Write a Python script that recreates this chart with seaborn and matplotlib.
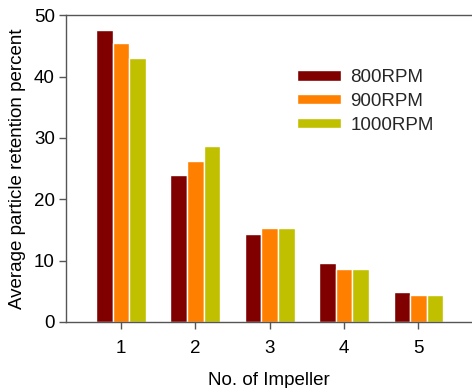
import pandas as pd
import matplotlib
matplotlib.use("Agg")
import matplotlib.pyplot as plt
import seaborn as sns

impellers = ["1", "2", "3", "4", "5"]
speeds = ["800RPM", "900RPM", "1000RPM"]
rpm_800 = [47.6, 23.9, 14.35, 9.6, 4.85]
rpm_900 = [45.5, 26.3, 15.3, 8.65, 4.35]
rpm_1000 = [43.0, 28.7, 15.3, 8.65, 4.35]
colors = ["#800000", "#FF8000", "#C0C000"]

rows = []
for speed, vals in zip(speeds, [rpm_800, rpm_900, rpm_1000]):
    for imp, v in zip(impellers, vals):
        rows.append({"impeller": imp, "speed": speed, "value": v})
df = pd.DataFrame(rows)

sns.set_style("white")
plt.rcParams["font.family"] = ["Liberation Sans", "DejaVu Sans"]
fs = 13.5

fig = plt.figure(figsize=(4.72, 3.88), dpi=100)
ax = fig.add_axes([66 / 472, 1 - 322 / 388, 1 - 66 / 472, (322 - 15.3) / 388])

sns.barplot(data=df, x="impeller", y="value", hue="speed", hue_order=speeds,
            palette=colors, saturation=1, width=0.67, edgecolor="white",
            linewidth=1, errorbar=None, ax=ax)

ax.set_xlim(-0.74, 4.72)
ax.set_ylim(0, 50)
ax.set_yticks([0, 10, 20, 30, 40, 50])
ax.set_xlabel("No. of Impeller", fontsize=fs, labelpad=11, color="black")
ax.set_ylabel("Average particle retention percent", fontsize=fs, labelpad=6,
              color="black")

spine_color = "#555555"
for side in ["left", "bottom", "top"]:
    ax.spines[side].set_visible(True)
    ax.spines[side].set_color(spine_color)
    ax.spines[side].set_linewidth(1)
ax.spines["right"].set_visible(False)
ax.tick_params(axis="both", direction="out", length=5, width=1, color=spine_color,
               labelsize=fs, labelcolor="black", pad=3, left=True, bottom=True)
ax.tick_params(axis="x", pad=8)

handles, labels = ax.get_legend_handles_labels()
ax.legend(handles, labels, loc="upper left", bbox_to_anchor=(297 / 472, 1 - 69 / 388),
          bbox_transform=fig.transFigure, frameon=False, fontsize=fs,
          handlelength=2.35, handleheight=0.5, handletextpad=0.5,
          labelspacing=0.36, borderpad=0, borderaxespad=0)

fig.savefig("out.png", dpi=100)
